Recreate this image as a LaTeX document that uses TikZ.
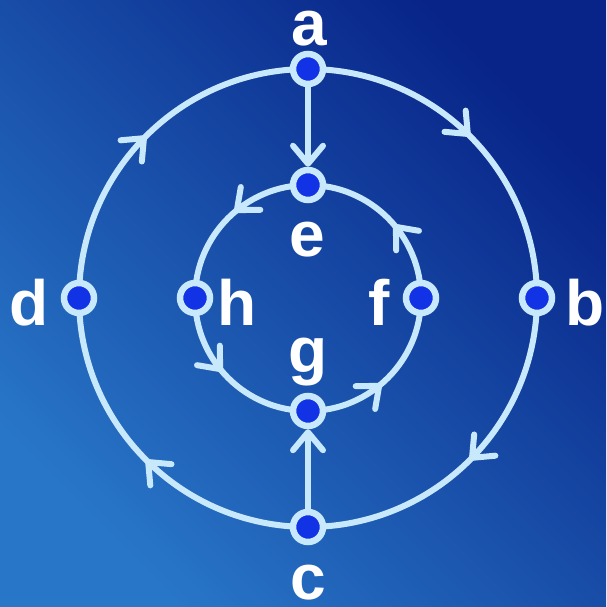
\documentclass[tikz,border=0pt]{standalone}
\usepackage{fontspec}
\setmainfont{Liberation Sans}
\usetikzlibrary{arrows.meta,decorations.markings}
\definecolor{ring}{RGB}{200,232,252}
\definecolor{nodeblue}{RGB}{18,50,230}
\definecolor{bgA}{RGB}{8,36,136}
\definecolor{bgB}{RGB}{40,118,200}
\pgfdeclarelayer{back}
\pgfdeclarelayer{mid}
\pgfsetlayers{back,mid,main}
\begin{document}
\begin{tikzpicture}[x=1pt,y=1pt,
  vtx/.style={circle,draw=ring,line width=6.5pt,fill=nodeblue,minimum size=30pt,inner sep=0pt},
  lbl/.style={text=white,font=\bfseries\fontsize{64}{64}\selectfont,anchor=base,inner sep=0pt},
  edge/.style={draw=ring,line width=6pt},
  tip/.style={-{Straight Barb[length=18pt,width=30pt,round]}},
  markat/.style={postaction={decorate},decoration={markings,mark=at position #1 with {\arrow{Straight Barb[length=18pt,width=30pt,round]}}}}]
\useasboundingbox (0,0) rectangle (606,607);
\begin{pgfonlayer}{back}
\shade[top color=bgA,bottom color=bgB,shading angle=-45] (0,0) rectangle (606,607);
\end{pgfonlayer}
% vertices
\node[vtx] (a) at (308,538) {};
\node[vtx] (b) at (537,309) {};
\node[vtx] (c) at (308,80) {};
\node[vtx] (d) at (79,309) {};
\node[vtx] (e) at (308,422) {};
\node[vtx] (f) at (421,309) {};
\node[vtx] (g) at (308,196) {};
\node[vtx] (h) at (195,309) {};
% labels
\node[lbl] (la) at (309,561) {a};
\node[lbl] (lb) at (585,281) {b};
\node[lbl] (lc) at (308,8) {c};
\node[lbl] (ld) at (29,281) {d};
\node[lbl] (le) at (307,350) {e};
\node[lbl] (lf) at (379,281) {f};
\node[lbl] (lg) at (308,234) {g};
\node[lbl] (lh) at (237,281) {h};
\begin{pgfonlayer}{mid}
% outer circle, clockwise
\draw[edge,markat=0.5] (a.center) arc[start angle=90,end angle=0,radius=229];
\draw[edge,markat=0.5] (b.center) arc[start angle=0,end angle=-90,radius=229];
\draw[edge,markat=0.5] (c.center) arc[start angle=270,end angle=180,radius=229];
\draw[edge,markat=0.5] (d.center) arc[start angle=180,end angle=90,radius=229];
% inner circle, counter-clockwise
\draw[edge,markat=0.45] (e.center) arc[start angle=90,end angle=180,radius=113];
\draw[edge,markat=0.45] (h.center) arc[start angle=180,end angle=270,radius=113];
\draw[edge,markat=0.45] (g.center) arc[start angle=270,end angle=360,radius=113];
\draw[edge,markat=0.45] (f.center) arc[start angle=0,end angle=90,radius=113];
% spokes
\draw[edge,tip] (a) -- (e);
\draw[edge,tip] (c) -- (g);
\end{pgfonlayer}
\end{tikzpicture}
\end{document}
